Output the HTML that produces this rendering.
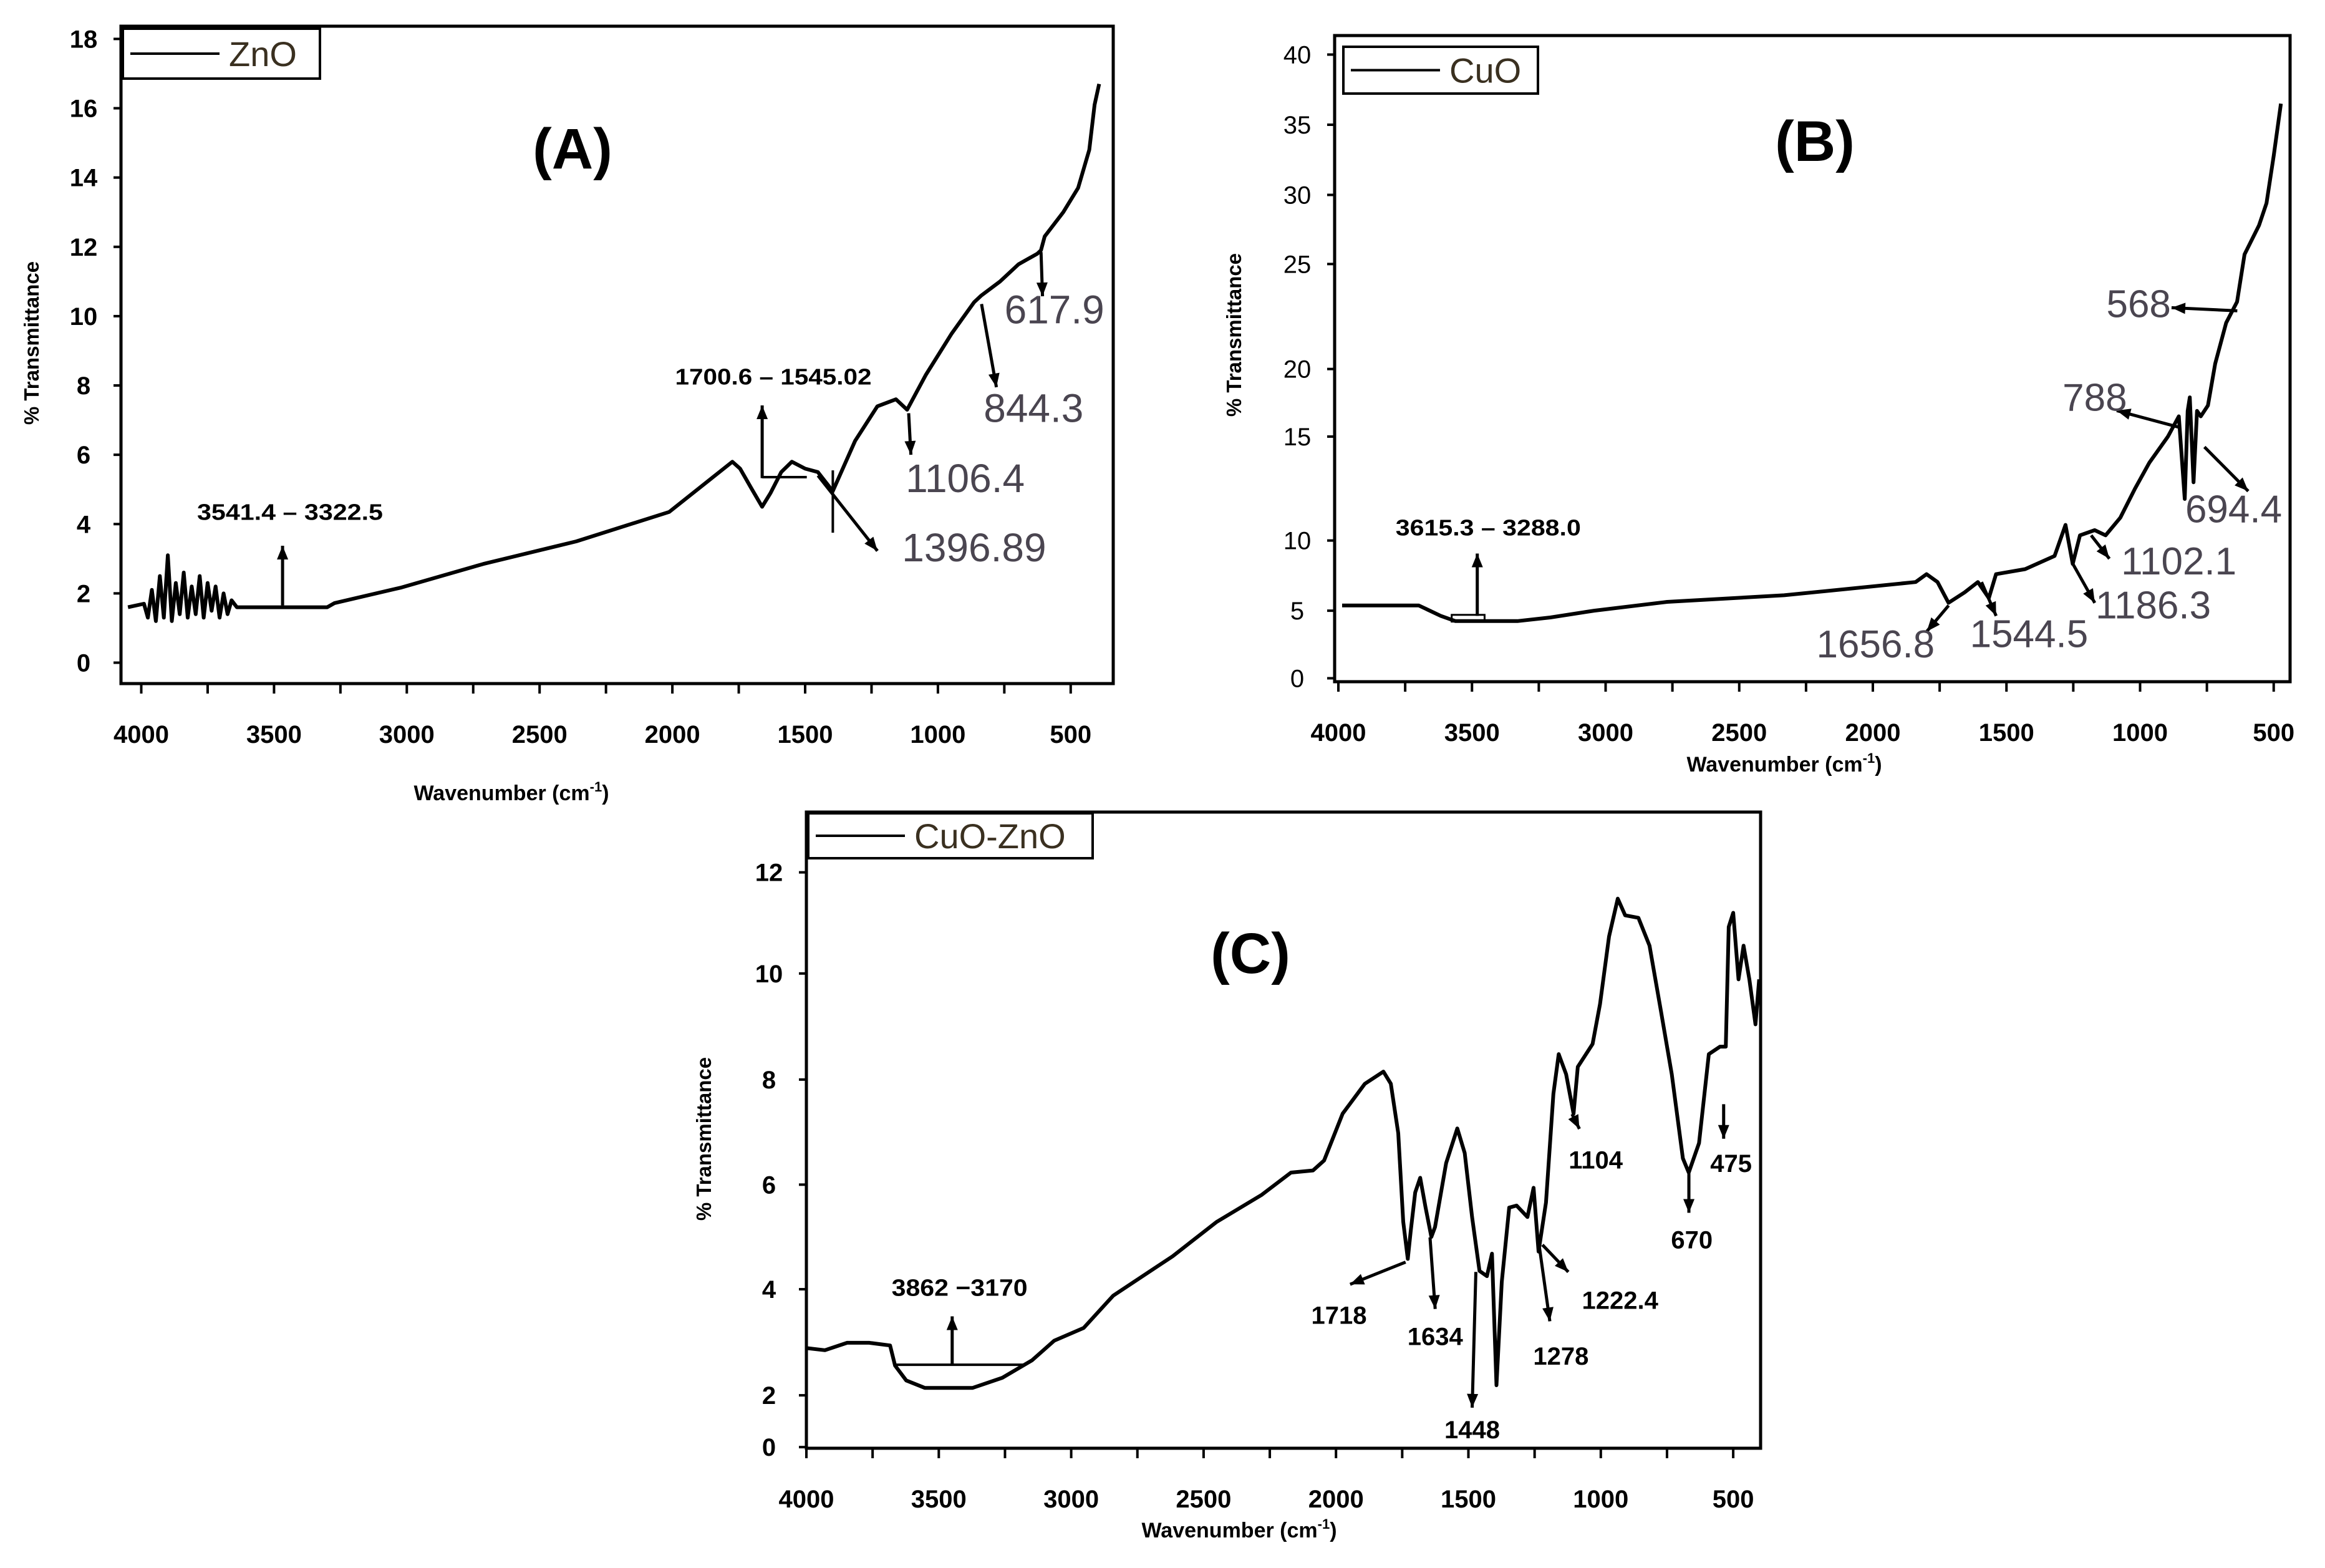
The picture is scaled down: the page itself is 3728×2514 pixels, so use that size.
<!DOCTYPE html>
<html><head><meta charset="utf-8"><title>FTIR spectra</title>
<style>
html,body{margin:0;padding:0;background:#fff;}
svg{display:block;}
text{font-family:"Liberation Sans",sans-serif;}
</style></head>
<body>
<svg id="fig" xmlns="http://www.w3.org/2000/svg" width="3728" height="2514" viewBox="0 0 3728 2514">
<rect width="3728" height="2514" fill="#fff"/>
</svg>
<script>
// ---------- Panel A (ZnO) data ----------
const aWave = [4050,3990,3975,3960,3945,3930,3915,3900,3885,3870,3855,3840,3825,3810,3795,3780,3765,3750,3735,3720,3705,3690,3675,3660,3640,3608,3300,3272,3020,2712,2362,2012,1774,1745,1700,1662,1630,1590,1550,1500,1452,1396,1312,1228,1158,1116,1046,948,864,836,766,696,626,612,598,528,472,430,410,393];
const aVal  = [1.6,1.7,1.3,2.1,1.2,2.5,1.3,3.1,1.2,2.3,1.4,2.6,1.3,2.2,1.4,2.5,1.3,2.3,1.5,2.2,1.3,2.0,1.4,1.8,1.6,1.6,1.6,1.72,2.17,2.85,3.5,4.35,5.8,5.6,5.0,4.5,4.9,5.5,5.8,5.6,5.5,4.95,6.4,7.4,7.6,7.3,8.3,9.5,10.4,10.6,11.0,11.5,11.8,11.9,12.3,13.0,13.7,14.8,16.1,16.7];
const aXTicks = [4000,3500,3000,2500,2000,1500,1000,500];
const aYTicks = [0,2,4,6,8,10,12,14,16,18];

// ---------- Panel B (CuO) data ----------
const bWave = [3986,3699,3617,3562,3330,3207,3043,2770,2332,1840,1799,1758,1717,1657,1607,1566,1539,1430,1320,1279,1252,1225,1170,1129,1074,1019,965,896,855,833,822,814,800,787,773,746,719,678,637,609,555,527,500,473];
const bVal  = [5.37,5.37,4.62,4.23,4.23,4.5,5.0,5.63,6.1,7.04,7.6,7.04,5.56,6.3,7.04,5.9,7.6,7.96,8.9,10.75,8.33,10.25,10.5,10.25,11.1,12.5,13.75,15,16.5,12.0,16.9,17.9,12.8,16.9,16.5,17.3,20.25,22.2,23.2,25.7,27.8,29.4,32.8,36.5];
const bXTicks = [4000,3500,3000,2500,2000,1500,1000,500];
const bYTicks = [0,5,10,15,20,25,30,35,40];

// ---------- Panel C (CuO-ZnO) data ----------
const cWave = [4000,3930,3846,3763,3684,3665,3623,3553,3372,3260,3148,3064,2953,2841,2617,2450,2282,2170,2087,2045,1975,1891,1821,1793,1765,1746,1729,1718,1701,1682,1662,1640,1626,1584,1542,1514,1486,1458,1430,1411,1394,1374,1346,1318,1277,1254,1235,1207,1179,1159,1131,1103,1087,1031,1003,969,936,908,858,816,774,732,690,668,629,592,550,528,517,500,480,461,439,416,402];
const cVal  = [2.89,2.85,2.99,2.99,2.94,2.56,2.28,2.14,2.14,2.33,2.66,3.03,3.27,3.88,4.63,5.29,5.8,6.23,6.27,6.46,7.35,7.92,8.15,7.92,6.98,5.29,4.58,5.1,5.85,6.13,5.57,5.0,5.19,6.41,7.07,6.6,5.38,4.35,4.25,4.68,2.19,4.14,5.56,5.6,5.38,5.94,4.72,5.66,7.73,8.48,8.1,7.35,8.24,8.67,9.42,10.73,11.48,11.15,11.1,10.55,9.32,8.1,6.5,6.23,6.79,8.48,8.62,8.62,10.92,11.2,9.89,10.55,9.89,9.04,9.89];
const cXTicks = [4000,3500,3000,2500,2000,1500,1000,500];
const cYTicks = [0,2,4,6,8,10,12];

const NS = "http://www.w3.org/2000/svg";
const svg = document.getElementById('fig');
function mk(tag, attrs, parent){
  const e = document.createElementNS(NS, tag);
  for (const k in attrs) e.setAttribute(k, attrs[k]);
  (parent||svg).appendChild(e);
  return e;
}
function txt(parent, x, y, s, size, opts){
  opts = opts||{};
  const t = mk('text', {x:x, y:y, 'font-size':size, 'text-anchor':opts.anchor||'middle', fill:opts.fill||'#000', 'font-weight':opts.bold?'bold':'normal'}, parent);
  if (opts.len) { t.setAttribute('textLength', opts.len); t.setAttribute('lengthAdjust','spacingAndGlyphs'); }
  if (opts.rot) t.setAttribute('transform', 'rotate(-90 '+x+' '+y+')');
  t.textContent = s;
  return t;
}
function piece(pts){ // piecewise linear y-axis mapping [value, pixel]
  return function(v){
    for (let i=0;i<pts.length-1;i++){
      const a=pts[i], b=pts[i+1];
      if (v<=b[0] || i===pts.length-2) return a[1]+(v-a[0])*(b[1]-a[1])/(b[0]-a[0]);
    }
  };
}
function arrow(g, x1,y1,x2,y2, color){
  mk('line',{x1:x1,y1:y1,x2:x2,y2:y2,stroke:color||'#000','stroke-width':5},g);
  const ang=Math.atan2(y2-y1,x2-x1), L=22, W=9;
  const p=[[x2,y2],[x2-L*Math.cos(ang)+W*Math.sin(ang), y2-L*Math.sin(ang)-W*Math.cos(ang)],[x2-L*Math.cos(ang)-W*Math.sin(ang), y2-L*Math.sin(ang)+W*Math.cos(ang)]];
  mk('polygon',{points:p.map(q=>q.join(',')).join(' '),fill:color||'#000'},g);
}

function panel(cfg){
  const g = mk('g', {});
  
  
  const f = cfg.frame;
  const fr = mk('rect',{x:f[0],y:f[1],width:f[2]-f[0],height:f[3]-f[1],fill:'none',stroke:'#000','stroke-width':5},g);
  
  
  // x ticks
  cfg.xTicks.forEach(w=>{
    const x=cfg.px(w);
    const l=txt(g, x, f[3]+95, String(w), 40, {bold:true});
    
    
  });
  for (let w=4000; w>=cfg.xMin; w-=250){
    const tk = mk('line',{x1:cfg.px(w),y1:f[3],x2:cfg.px(w),y2:f[3]+16,stroke:'#000','stroke-width':4},g);
    
    
  }
  cfg.yTicks.forEach(v=>{
    const y=cfg.py(v);
    const l=txt(g, f[0]-60, y+14, String(v), 40, {bold:cfg.boldY});
    
    
    const tk = mk('line',{x1:f[0]-12,y1:y,x2:f[0],y2:y,stroke:'#000','stroke-width':4},g);
    
    
  });
  // titles
  const xt = txt(g, cfg.xTitle[0], cfg.xTitle[1], 'Wavenumber (cm', 34, {bold:true});
  const sup = mk('tspan',{'font-size':22,dy:-14},xt); sup.textContent='-1';
  const cl = mk('tspan',{dy:14},xt); cl.textContent=')';
  
  
  const yt = txt(g, cfg.yTitle[0], cfg.yTitle[1], '% Transmittance', 33, {bold:true, rot:true});
  
  
  // panel letter
  const pl = txt(g, cfg.letter[0], cfg.letter[1], cfg.letter[2], 92, {bold:true});
  
  
  // legend
  const lg = mk('g',{},g);
  
  
  const L = cfg.legend;
  mk('rect',{x:L[0],y:L[1],width:L[2],height:L[3],fill:'#fff',stroke:'#000','stroke-width':4},lg);
  mk('line',{x1:L[0]+12,y1:L[1]+L[3]/2,x2:L[0]+155,y2:L[1]+L[3]/2,stroke:'#000','stroke-width':4},lg);
  const lt = txt(lg, L[0]+170, L[1]+L[3]/2+20, cfg.label, 56, {anchor:'start', fill:'#3a3020'});
  
  
  // series
  const d = cfg.wave.map((w,i)=>(i?'L':'M')+cfg.px(w).toFixed(1)+','+cfg.py(cfg.vals[i]).toFixed(1)).join(' ');
  const path = mk('path',{d:d,fill:'none',stroke:'#000','stroke-width':6,'stroke-linejoin':'round'},g);
  
  
  return g;
}

// ===== Panel A =====
const gA = panel({
  name:'panel-a-zno', seriesName:'zno-spectrum', label:'ZnO',
  frame:[194,42,1785,1096], xMin:500,
  px:w=>226.5+(4000-w)*0.4258, py:v=>1062.5-55.56*v,
  xTicks:aXTicks, yTicks:aYTicks, boldY:true,
  xTitle:[820,1283], yTitle:[62,550], letter:[918,270,'(A)'],
  legend:[197,46,316,80], wave:aWave, vals:aVal
});
{
  const A=(x,y)=>[1.1923*x,0.8333*y];
  const g=mk('g',{});  
  let p=A(380,1165),q=A(380,1050); arrow(g,p[0],p[1],q[0],q[1]);
  p=A(390,1000); txt(g,p[0],p[1],'3541.4 – 3322.5',36,{bold:true,len:298});
  p=A(1025,920);q=A(1025,780); arrow(g,p[0],p[1],q[0],q[1]);
  p=A(1040,740); txt(g,p[0],p[1],'1700.6 – 1545.02',36,{bold:true,len:315});
  p=A(1025,918);q=A(1085,918); mk('line',{x1:p[0],y1:p[1],x2:q[0],y2:q[1],stroke:'#000','stroke-width':4},g);
  p=A(1120,905);q=A(1120,1025); mk('line',{x1:p[0],y1:p[1],x2:q[0],y2:q[1],stroke:'#000','stroke-width':4},g);
  p=A(1100,915);q=A(1180,1060); arrow(g,p[0],p[1],q[0],q[1]);
  p=A(1222,795);q=A(1225,875); arrow(g,p[0],p[1],q[0],q[1]);
  p=A(1320,585);q=A(1340,745); arrow(g,p[0],p[1],q[0],q[1]);
  p=A(1400,485);q=A(1402,570); arrow(g,p[0],p[1],q[0],q[1]);
  const gray='#4a4550';
  [['617.9',1418,622],['844.3',1390,812],['1106.4',1298,947],['1396.89',1310,1080]].forEach(a=>{p=A(a[1],a[2]); txt(g,p[0],p[1],a[0],64,{fill:gray});});
}

// ===== Panel B =====
const bY = piece([[0,1305],[5,1175],[10,1040],[15,840],[20,710],[25,508],[30,375],[35,240],[40,105]]);
const gB = panel({
  name:'panel-b-cuo', seriesName:'cuo-spectrum', label:'CuO',
  frame:[2140,57,3672,1093], xMin:500,
  px:w=>2146+(4000-w)*0.4285, py:v=>0.8333*bY(v),
  xTicks:bXTicks, yTicks:bYTicks, boldY:false,
  xTitle:[2861,1237], yTitle:[1990,537], letter:[2910,258,'(B)'],
  legend:[2154,75,312,75], wave:bWave, vals:bVal
});
{
  const B=(x,y)=>[1900+1.1718*x,0.8333*y];
  const g=mk('g',{});  
  let p=B(365,1183),q=B(410,1196); mk('rect',{x:p[0],y:p[1],width:q[0]-p[0],height:q[1]-p[1],fill:'none',stroke:'#000','stroke-width':3},g);
  p=B(400,1185);q=B(400,1065); arrow(g,p[0],p[1],q[0],q[1]);
  p=B(415,1030); txt(g,p[0],p[1],'3615.3 – 3288.0',36,{bold:true,len:297});
  const gray='#4a4550';
  [[1440,598,1350,592],[1360,822,1275,790],[1395,860,1455,945],[1240,1030,1265,1075],[1215,1085,1245,1160],[1090,1120,1110,1185],[1045,1165,1015,1215]].forEach(a=>{
    p=B(a[0],a[1]);q=B(a[2],a[3]);arrow(g,p[0],p[1],q[0],q[1]);
  });
  [['568',1305,610],['788',1245,790],['694.4',1435,1005],['1102.1',1360,1105],['1186.3',1325,1190],['1544.5',1155,1245],['1656.8',945,1265]].forEach(a=>{p=B(a[1],a[2]); txt(g,p[0],p[1],a[0],62,{fill:gray});});
}

// ===== Panel C =====
const cY = piece([[0,1315],[2,1210],[4,995],[6,783],[8,570],[10,355],[12,150]]);
const gC = panel({
  name:'panel-c-cuo-zno', seriesName:'cuo-zno-spectrum', label:'CuO-ZnO',
  frame:[1293,1302,2823,2322], xMin:500,
  px:w=>1293+(4000-w)*0.4246, py:v=>1280+0.791*cY(v),
  xTicks:cXTicks, yTicks:cYTicks, boldY:true,
  xTitle:[1987,2465], yTitle:[1140,1826], letter:[2005,1560,'(C)'],
  legend:[1296,1304,456,72], wave:cWave, vals:cVal
});
{
  const C=(x,y)=>[1050+1.186*x,1280+0.791*y];
  const g=mk('g',{});  
  let p=C(325,1148),q=C(500,1148); mk('line',{x1:p[0],y1:p[1],x2:q[0],y2:q[1],stroke:'#000','stroke-width':4},g);
  p=C(402,1148);q=C(402,1050); arrow(g,p[0],p[1],q[0],q[1]);
  p=C(412,1008); txt(g,p[0],p[1],'3862 −3170',38,{bold:true,len:218});
  [[1015,940,940,985],[1048,890,1055,1035],[1110,960,1105,1235],[1195,900,1210,1060],[1200,905,1235,960],[1240,640,1250,670],[1398,760,1398,840],[1445,620,1445,690]].forEach(a=>{
    p=C(a[0],a[1]);q=C(a[2],a[3]);arrow(g,p[0],p[1],q[0],q[1]);
  });
  [['1718',925,1065],['1634',1055,1108],['1448',1105,1297],['1278',1225,1148],['1222.4',1305,1035],['1104',1272,750],['670',1402,912],['475',1455,757]].forEach(a=>{p=C(a[1],a[2]); txt(g,p[0],p[1],a[0],40,{bold:true});});
}
</script>
</body></html>
